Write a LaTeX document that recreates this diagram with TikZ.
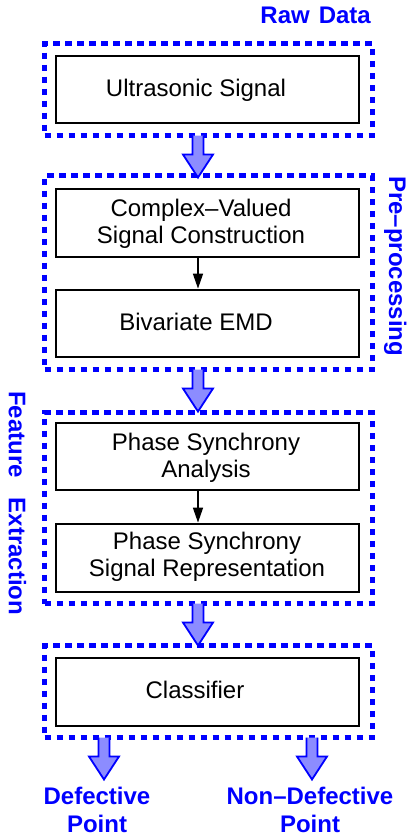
\documentclass[tikz,border=0pt]{standalone}
\usepackage{fontspec}
\setmainfont{Liberation Sans}
\usetikzlibrary{arrows.meta}
\definecolor{grpblue}{RGB}{0,0,255}
\definecolor{arrfill}{RGB}{140,140,255}
\begin{document}
\begin{tikzpicture}[x=1pt,y=-1pt,
  stepbox/.style={draw=black, line width=2.8pt, minimum width=303pt, inner sep=0pt},
  group/.style={draw=grpblue, line width=5pt, dash pattern=on 6.5pt off 5.5pt,
    minimum width=327.5pt, inner sep=0pt, outer sep=0pt},
  boxtext/.style={font=\fontsize{24}{27}\selectfont, align=center, inner sep=0pt},
  grptitle/.style={font=\fontsize{24}{28}\selectfont\bfseries, text=grpblue,
    inner sep=0pt, align=center},
  thinarrow/.style={-{Triangle[length=15pt,width=10pt]}, line width=1.6pt},
  pics/blockarrow/.style={code={
    \fill[arrfill] (-5.5,0) -- (-5.5,19) -- (-15,19) -- (0,42) -- (15,19)
      -- (5.5,19) -- (5.5,0) -- cycle;
    \draw[grpblue, line width=1.8pt, line join=miter] (-5.5,0) -- (-5.5,19)
      -- (-15,19) -- (0,42) -- (15,19) -- (5.5,19) -- (5.5,0);
  }}]
\useasboundingbox (0,0) rectangle (410,839);

% dashed stage frames
\node[group, minimum height=92pt]  (g1) at (208.25,89.5) {};
\node[group, minimum height=194pt] (g2) at (208.25,272.5) {};
\node[group, minimum height=191pt] (g3) at (208.25,508) {};
\node[group, minimum height=92pt]  (g4) at (208.25,691.5) {};

% processing blocks
\node[stepbox, minimum height=67pt] (b1) at (207.5,89.5) {};
\node[stepbox, minimum height=68pt] (b2) at (207.5,223) {};
\node[stepbox, minimum height=67pt] (b3) at (207.5,323.5) {};
\node[stepbox, minimum height=67pt] (b4) at (207.5,456.5) {};
\node[stepbox, minimum height=68pt] (b5) at (207.5,558) {};
\node[stepbox, minimum height=68pt] (b6) at (207.5,692) {};

% block texts
\node[boxtext, anchor=base] (t1) at (196,96) {Ultrasonic Signal};
\node[boxtext] (t2) at (201,223.5) {Complex–Valued\\Signal Construction};
\node[boxtext, anchor=base] (t3) at (196,330) {Bivariate EMD};
\node[boxtext] (t4) at (206,457.5) {Phase Synchrony\\Analysis};
\node[boxtext] (t5) at (207,557) {Phase Synchrony\\Signal Representation};
\node[boxtext, anchor=base] (t6) at (195,698) {Classifier};

% stage titles and outcomes
\node[grptitle, anchor=base east] (raw) at (371,23) {Raw\hspace{9pt}Data};
\node[grptitle, rotate=-90, anchor=base west] (pre) at (389,176) {Pre–processing};
\node[grptitle, rotate=-90, anchor=base west] (feat) at (9,391) {Feature\hspace{20pt}Extraction};
\node[grptitle] (def) at (97,810) {Defective\\Point};
\node[grptitle] (nondef) at (310,810) {Non–Defective\\Point};

% arrows inside stages
\draw[thinarrow] ([xshift=-9.5pt]b2.south) -- ([xshift=-9.5pt]b3.north);
\draw[thinarrow] ([xshift=-9.5pt]b4.south) -- ([xshift=-9.5pt]b5.north);

% block arrows between stages
\pic at ([xshift=-10.25pt]g1.south) {blockarrow};
\pic at ([xshift=-10.25pt]g2.south) {blockarrow};
\pic at ([xshift=-10.25pt]g3.south) {blockarrow};
\pic at ([xshift=-104.25pt]g4.south) {blockarrow};
\pic at ([xshift=103.75pt]g4.south) {blockarrow};
\end{tikzpicture}
\end{document}
